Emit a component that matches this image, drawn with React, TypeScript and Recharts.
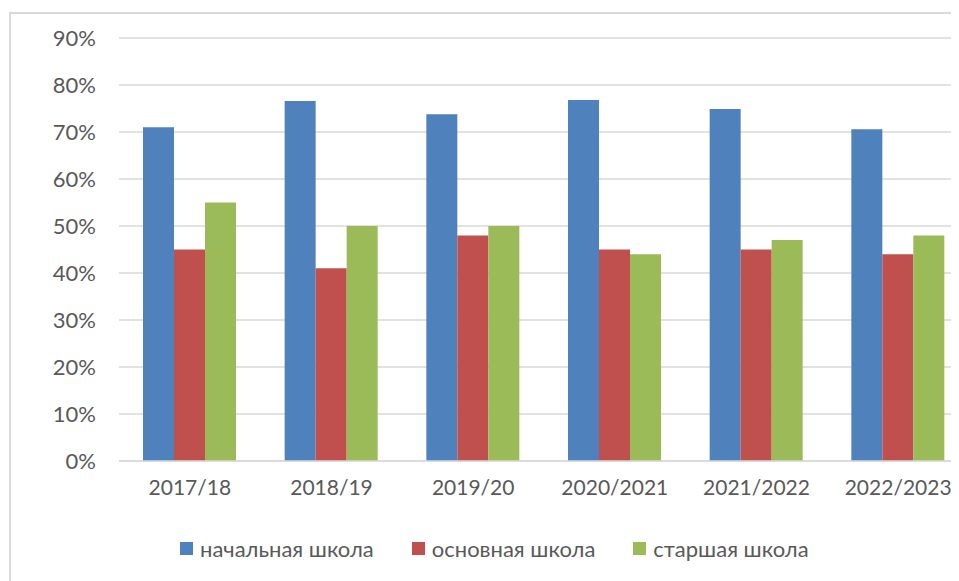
import { Bar, BarChart, CartesianGrid, Legend, XAxis, YAxis } from "recharts";

const years = ["2017/18", "2018/19", "2019/20", "2020/2021", "2021/2022", "2022/2023"];
const primary = [71, 76.6, 73.8, 76.8, 74.9, 70.6];
const basic = [45, 41, 48, 45, 45, 44];
const senior = [55, 50, 50, 44, 47, 48];
const yTicks = [0, 10, 20, 30, 40, 50, 60, 70, 80, 90];

const seriesList = [
    { key: "primary", name: "начальная школа", color: "#4F81BD" },
    { key: "basic", name: "основная школа", color: "#C0504D" },
    { key: "senior", name: "старшая школа", color: "#9BBB59" },
];

const data = years.map((year, i) => ({
    year,
    primary: primary[i],
    basic: basic[i],
    senior: senior[i],
}));

const FONT = "Lato, 'Open Sans', sans-serif";
const TEXT = "#595959";

function LegendContent() {
    return (
        <div style={{ display: "flex", alignItems: "center", fontFamily: FONT, fontSize: 22, color: TEXT }}>
            {seriesList.map((s) => (
                <div key={s.key} style={{ display: "flex", alignItems: "center", marginRight: 38 }}>
                    <span style={{ width: 13, height: 13, background: s.color, display: "inline-block", marginRight: 7 }} />
                    <span>{s.name}</span>
                </div>
            ))}
        </div>
    );
}

export default function App() {
    return (
        <div style={{ position: "relative", width: 951, height: 573, overflow: "hidden" }}>
            <div
                style={{
                    position: "absolute",
                    left: 1,
                    top: 4,
                    width: 1000,
                    height: 620,
                    border: "2px solid #d9d9d9",
                }}
            />
            <div style={{ position: "absolute", left: 0, top: 0 }}>
                <BarChart
                    width={961}
                    height={573}
                    data={data}
                    margin={{ top: 30, right: 0, left: 0, bottom: 80 }}
                    barCategoryGap={24}
                    barGap={0}
                >
                    <CartesianGrid vertical={false} stroke="#d9d9d9" strokeWidth={1.5} />
                    <XAxis
                        dataKey="year"
                        axisLine={{ stroke: "#d9d9d9", strokeWidth: 1.5 }}
                        tickLine={false}
                        tickSize={0}
                        tickMargin={19}
                        height={40}
                        tick={{ fontSize: 21, fill: TEXT, fontFamily: FONT }}
                        interval={0}
                    />
                    <YAxis
                        width={111}
                        domain={[0, 90]}
                        ticks={yTicks}
                        axisLine={false}
                        tickLine={false}
                        tickSize={0}
                        tickMargin={23}
                        tickFormatter={(v) => `${v}%`}
                        tick={{ fontSize: 22, fill: TEXT, fontFamily: FONT }}
                    />
                    <Legend
                        layout="horizontal"
                        verticalAlign="middle"
                        align="center"
                        wrapperStyle={{ top: 527, left: 172, width: 760 }}
                        content={() => <LegendContent />}
                    />
                    {seriesList.map((s) => (
                        <Bar key={s.key} dataKey={s.key} name={s.name} fill={s.color} isAnimationActive={false} />
                    ))}
                </BarChart>
            </div>
        </div>
    );
}
